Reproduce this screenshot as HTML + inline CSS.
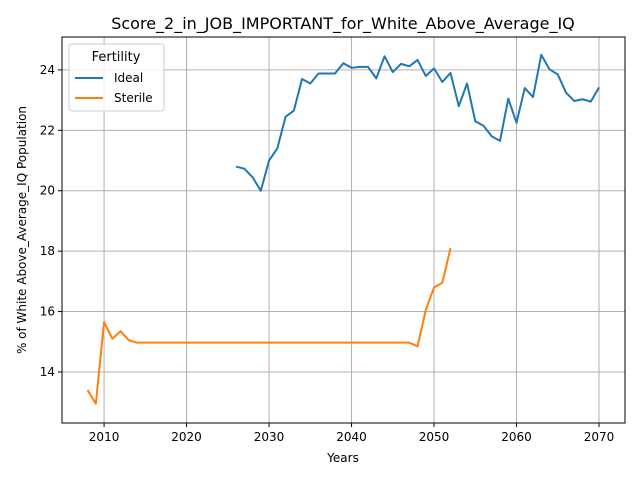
<!DOCTYPE html>
<html><head><meta charset="utf-8"><style>
body{margin:0;background:#fff;font-family:"Liberation Sans","DejaVu Sans",sans-serif;}
svg text{font-family:"DejaVu Sans","Liberation Sans",sans-serif;}
</style></head><body>
<svg id="chart" width="640" height="480" xmlns="http://www.w3.org/2000/svg">
<rect width="640" height="480" fill="#fff"/>
<g id="grid"></g>
<g id="axes"></g>
<g id="series"></g>
<rect x="62" y="37" width="563" height="386" fill="none" stroke="#000" stroke-width="1"/>
<text x="343" y="29" font-size="16" text-anchor="middle">Score_2_in_JOB_IMPORTANT_for_White_Above_Average_IQ</text>
<text x="343" y="462" font-size="12" text-anchor="middle">Years</text>
<text transform="translate(26,230) rotate(-90)" font-size="12" text-anchor="middle">% of White Above_Average_IQ Population</text>
<g>
<rect x="69" y="44" width="95" height="67" rx="3" fill="#fff" fill-opacity="0.8" stroke="#ccc"/>
<text x="116" y="61" font-size="13" text-anchor="middle">Fertility</text>
<g><line x1="75" y1="78" x2="103" y2="78" stroke="#1f77b4" stroke-width="2"/><text x="114" y="82" font-size="12">Ideal</text></g>
<g><line x1="75" y1="98" x2="103" y2="98" stroke="#ff7f0e" stroke-width="2"/><text x="114" y="102" font-size="12">Sterile</text></g>
</g>
</svg>
<script>
const idealYears = [2026,2027,2028,2029,2030,2031,2032,2033,2034,2035,2036,2037,2038,2039,2040,2041,2042,2043,2044,2045,2046,2047,2048,2049,2050,2051,2052,2053,2054,2055,2056,2057,2058,2059,2060,2061,2062,2063,2064,2065,2066,2067,2068,2069,2070];
const idealValues = [20.8,20.73,20.45,20.0,21.0,21.4,22.45,22.65,23.7,23.55,23.88,23.88,23.88,24.22,24.07,24.1,24.1,23.72,24.45,23.93,24.2,24.12,24.33,23.8,24.05,23.6,23.9,22.8,23.55,22.3,22.15,21.8,21.65,23.05,22.25,23.4,23.1,24.5,24.02,23.85,23.25,22.97,23.03,22.95,23.42];
const sterileYears = [2008,2009,2010,2011,2012,2013,2014,2015,2016,2017,2018,2019,2020,2021,2022,2023,2024,2025,2026,2027,2028,2029,2030,2031,2032,2033,2034,2035,2036,2037,2038,2039,2040,2041,2042,2043,2044,2045,2046,2047,2048,2049,2050,2051,2052];
const sterileValues = [13.4,12.95,15.65,15.1,15.35,15.05,14.97,14.97,14.97,14.97,14.97,14.97,14.97,14.97,14.97,14.97,14.97,14.97,14.97,14.97,14.97,14.97,14.97,14.97,14.97,14.97,14.97,14.97,14.97,14.97,14.97,14.97,14.97,14.97,14.97,14.97,14.97,14.97,14.97,14.97,14.85,16.05,16.8,16.95,18.1];
const xTicks = [2010,2020,2030,2040,2050,2060,2070];
const yTicks = [14,16,18,20,22,24];
const X0=62,X1=625,Y0=423,Y1=37, XMIN=2004.9, XMAX=2073.15, YMIN=12.31, YMAX=25.09;
const xs=v=>X0+(v-XMIN)/(XMAX-XMIN)*(X1-X0);
const ys=v=>Y0-(v-YMIN)/(YMAX-YMIN)*(Y0-Y1);
const NS="http://www.w3.org/2000/svg";
const grid=document.getElementById('grid'), axes=document.getElementById('axes'), series=document.getElementById('series');
function mk(t,a,p){const e=document.createElementNS(NS,t);for(const k in a)e.setAttribute(k,a[k]);p.appendChild(e);return e;}
xTicks.forEach(t=>{const x=xs(t);
 const g=mk('line',{x1:x,x2:x,y1:Y1,y2:Y0,stroke:'#b0b0b0','stroke-width':1},grid);
 
 
 mk('line',{x1:x,x2:x,y1:Y0,y2:Y0+4,stroke:'#000'},axes);
 const l=mk('text',{x:x,y:Y0+18,'font-size':12,'text-anchor':'middle'},axes);l.textContent=t;
 
 
});
yTicks.forEach(t=>{const y=ys(t);
 const g=mk('line',{x1:X0,x2:X1,y1:y,y2:y,stroke:'#b0b0b0','stroke-width':1},grid);
 
 
 mk('line',{x1:X0-4,x2:X0,y1:y,y2:y,stroke:'#000'},axes);
 const l=mk('text',{x:X0-7,y:y+4,'font-size':12,'text-anchor':'end'},axes);l.textContent=t;
 
 
});
function line(xsArr,vs,c,name){
 const p=mk('polyline',{points:xsArr.map((x,i)=>xs(x)+','+ys(vs[i])).join(' '),fill:'none',stroke:c,'stroke-width':2,'stroke-linejoin':'round'},series);
 
 
}
line(idealYears,idealValues,'#1f77b4','ideal-line');
line(sterileYears,sterileValues,'#ff7f0e','sterile-line');
</script>
</body></html>
